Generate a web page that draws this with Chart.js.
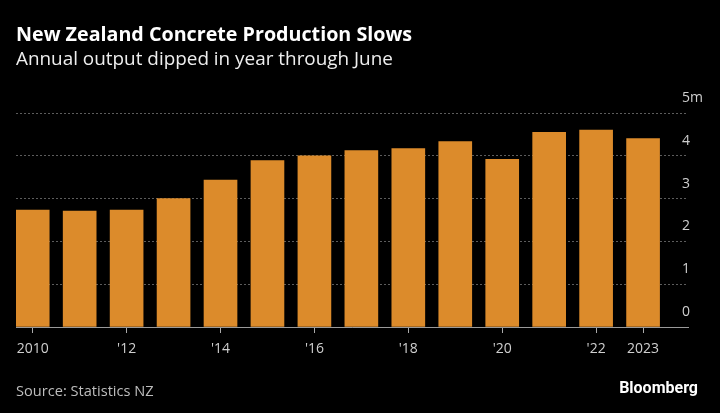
<!DOCTYPE html>
<html><head><meta charset="utf-8">
<script src="https://cdn.jsdelivr.net/npm/chart.js@4"></script>
<style>
html,body{margin:0;padding:0;background:#000;}
#wrap{position:relative;width:720px;height:413px;overflow:hidden;background:#000;}
#c{position:absolute;left:0;top:0;}
.t{position:absolute;white-space:nowrap;line-height:1;font-family:"Open Sans",sans-serif;}
#title{left:16px;top:24px;font-size:19.7px;font-weight:700;color:#fff;}
#sub{left:16px;top:49px;font-size:18.9px;color:#eee;}
#src{left:16px;top:383px;font-size:14.6px;color:#bdbdbd;}
#logo{right:22px;top:380px;font-family:Roboto,sans-serif;font-size:16px;font-weight:700;color:#fff;}
</style></head>
<body><div id="wrap">
<canvas id="c" width="720" height="413"></canvas>
<div class="t" id="title">New Zealand Concrete Production Slows</div>
<div class="t" id="sub">Annual output dipped in year through June</div>
<div class="t" id="src">Source: Statistics NZ</div>
<div class="t" id="logo">Bloomberg</div>
</div>
<script>
// Data (million cubic metres)
const years = [2010,2011,2012,2013,2014,2015,2016,2017,2018,2019,2020,2021,2022,2023];
const output = [2.73,2.71,2.73,3.00,3.43,3.89,4.00,4.12,4.17,4.33,3.92,4.55,4.60,4.40];
const xTickYears = [2010,2012,2014,2016,2018,2020,2022,2023];
const yTicks = [0,1,2,3,4,5];

const points = years.map((y,i)=>({x:y,y:output[i]}));

new Chart(document.getElementById('c'), {
  type:'bar',
  data:{datasets:[{data:points, backgroundColor:'#DC8B2B', borderWidth:0, barThickness:33}]},
  options:{
    responsive:false, animation:false, devicePixelRatio:1,
    layout:{padding:{left:16,right:0,top:113,bottom:46}},
    plugins:{legend:{display:false},tooltip:{enabled:false},title:{display:false}},
    scales:{
      x:{
        type:'linear', min:2009.644, max:2023.957, offset:false,
        afterBuildTicks:(s)=>{s.ticks = xTickYears.map(v=>({value:v}));},
        afterFit:(s)=>{s.height=40;},
        grid:{display:true, offset:false, drawOnChartArea:false, drawTicks:true, tickLength:6, color:'#aaa', lineWidth:1},
        border:{display:true, color:'#9a9a9a', width:1},
        ticks:{autoSkip:false, maxRotation:0, padding:8, color:'#cfcfcf',
          font:{family:'"Open Sans"', size:14},
          callback:(v)=> (v===xTickYears[0]||v===xTickYears[xTickYears.length-1]) ? String(v) : "'"+String(v).slice(2)}
      },
      y:{
        position:'right', min:0, max:5,
        afterBuildTicks:(s)=>{s.ticks = yTicks.map(v=>({value:v}));},
        afterFit:(s)=>{s.width=32;},
        grid:{display:true, drawTicks:false, color:'#5c5c5c', lineWidth:1},
        border:{display:false, dash:[2,2]},
        ticks:{mirror:true, crossAlign:'far', padding:15, labelOffset:-15, color:'#cfcfcf',
          font:{family:'"Open Sans"', size:14},
          callback:(v)=> v===yTicks[yTicks.length-1] ? v+'m' : String(v)}
      }
    }
  }
});
</script></body></html>
